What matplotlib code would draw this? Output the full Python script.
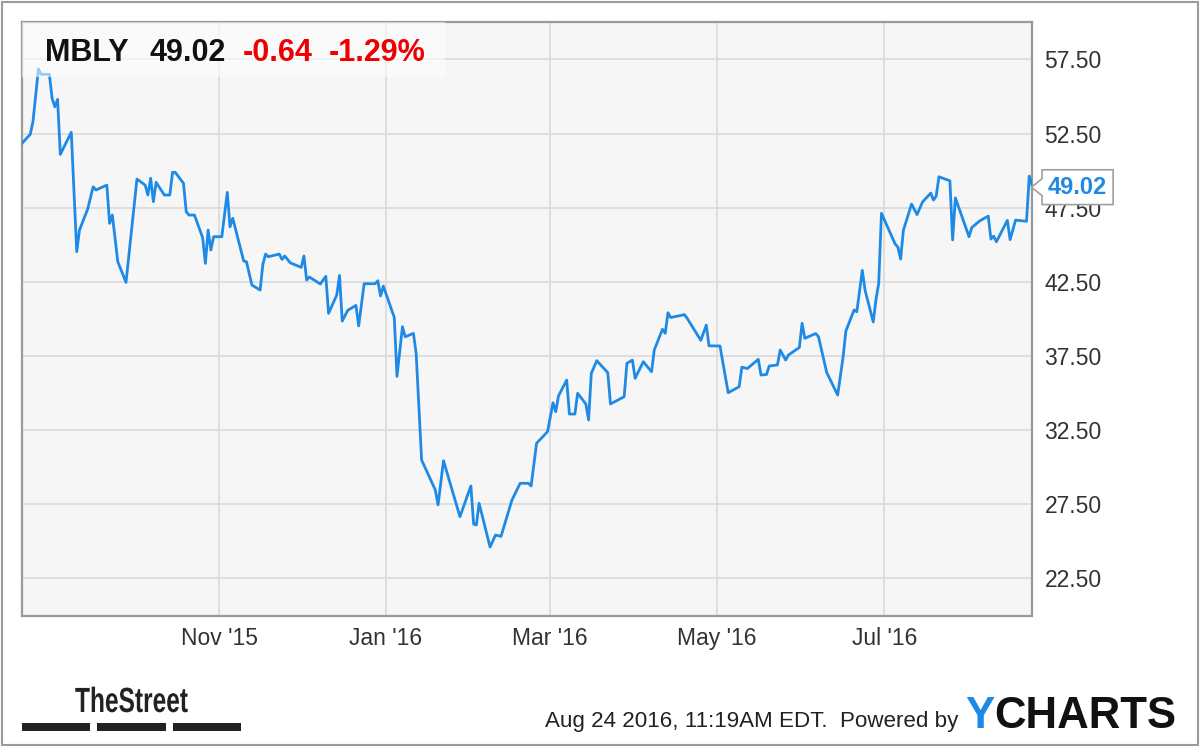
import matplotlib
matplotlib.use('Agg')
import pandas as pd
import matplotlib.pyplot as plt
import matplotlib.dates as mdates
from matplotlib.ticker import FormatStrFormatter
from matplotlib.patches import Rectangle, PathPatch
from matplotlib.path import Path
from matplotlib.textpath import TextPath
from matplotlib.font_manager import FontProperties
from matplotlib.transforms import Affine2D

plt.rcParams['font.family'] = ['Liberation Sans', 'DejaVu Sans']

# quote header
ticker = 'MBLY'
last_price = 49.02
change = -0.64
change_pct = -1.29
stamp = 'Aug 24 2016, 11:19AM EDT.  Powered by'

# daily closes (turning points)
dates = [
    '2015-08-21', '2015-08-24', '2015-08-25', '2015-08-27', '2015-08-28', '2015-08-31',
    '2015-09-01', '2015-09-02', '2015-09-03', '2015-09-04', '2015-09-08', '2015-09-10',
    '2015-09-11', '2015-09-14', '2015-09-16', '2015-09-17', '2015-09-21', '2015-09-22',
    '2015-09-23', '2015-09-25', '2015-09-28', '2015-10-02', '2015-10-05', '2015-10-06',
    '2015-10-07', '2015-10-08', '2015-10-09', '2015-10-12', '2015-10-14', '2015-10-15',
    '2015-10-16', '2015-10-19', '2015-10-20', '2015-10-21', '2015-10-23', '2015-10-26',
    '2015-10-27', '2015-10-28', '2015-10-29', '2015-10-30', '2015-11-02', '2015-11-04',
    '2015-11-05', '2015-11-06', '2015-11-10', '2015-11-11', '2015-11-13', '2015-11-16',
    '2015-11-17', '2015-11-18', '2015-11-19', '2015-11-23', '2015-11-24', '2015-11-25',
    '2015-11-27', '2015-12-01', '2015-12-02', '2015-12-03', '2015-12-04', '2015-12-08',
    '2015-12-10', '2015-12-11', '2015-12-14', '2015-12-15', '2015-12-16', '2015-12-18',
    '2015-12-21', '2015-12-22', '2015-12-24', '2015-12-28', '2015-12-29', '2015-12-30',
    '2015-12-31', '2016-01-04', '2016-01-05', '2016-01-07', '2016-01-08', '2016-01-11',
    '2016-01-12', '2016-01-14', '2016-01-19', '2016-01-20', '2016-01-22', '2016-01-28',
    '2016-02-01', '2016-02-02', '2016-02-03', '2016-02-04', '2016-02-08', '2016-02-10',
    '2016-02-12', '2016-02-16', '2016-02-19', '2016-02-22', '2016-02-23', '2016-02-25',
    '2016-02-29', '2016-03-02', '2016-03-03', '2016-03-04', '2016-03-07', '2016-03-08',
    '2016-03-10', '2016-03-11', '2016-03-14', '2016-03-15', '2016-03-16', '2016-03-18',
    '2016-03-22', '2016-03-23', '2016-03-28', '2016-03-29', '2016-03-31', '2016-04-01',
    '2016-04-04', '2016-04-07', '2016-04-08', '2016-04-11', '2016-04-12', '2016-04-13',
    '2016-04-14', '2016-04-18', '2016-04-19', '2016-04-20', '2016-04-25', '2016-04-27',
    '2016-04-28', '2016-05-02', '2016-05-05', '2016-05-09', '2016-05-10', '2016-05-12',
    '2016-05-16', '2016-05-17', '2016-05-19', '2016-05-20', '2016-05-23', '2016-05-24',
    '2016-05-26', '2016-05-27', '2016-05-31', '2016-06-01', '2016-06-02', '2016-06-06',
    '2016-06-07', '2016-06-10', '2016-06-14', '2016-06-16', '2016-06-17', '2016-06-20',
    '2016-06-21', '2016-06-23', '2016-06-24', '2016-06-27', '2016-06-28', '2016-06-29',
    '2016-06-30', '2016-07-05', '2016-07-06', '2016-07-07', '2016-07-08', '2016-07-11',
    '2016-07-13', '2016-07-15', '2016-07-18', '2016-07-19', '2016-07-20', '2016-07-21',
    '2016-07-25', '2016-07-26', '2016-07-27', '2016-08-01', '2016-08-02', '2016-08-05',
    '2016-08-08', '2016-08-09', '2016-08-10', '2016-08-11', '2016-08-15', '2016-08-16',
    '2016-08-18', '2016-08-22', '2016-08-23', '2016-08-24',
]
prices = [
    51.84, 52.44, 53.29, 56.85, 56.49, 56.49,
    54.87, 54.30, 54.80, 51.09, 52.58, 44.53,
    45.99, 47.41, 48.91, 48.69, 49.02, 46.44,
    47.00, 43.85, 42.46, 49.43, 49.02, 48.35,
    49.48, 47.90, 49.21, 48.35, 48.35, 49.88,
    49.88, 49.14, 47.22, 47.00, 47.00, 45.47,
    43.74, 45.99, 44.64, 45.54, 45.54, 48.53,
    46.21, 46.78, 43.90, 43.85, 42.28, 41.94,
    43.68, 44.37, 44.19, 44.37, 44.01, 44.24,
    43.78, 43.47, 44.24, 42.62, 42.82, 42.35,
    42.87, 40.37, 41.61, 42.93, 39.85, 40.57,
    40.91, 39.52, 42.37, 42.37, 42.57, 41.54,
    42.21, 40.10, 36.12, 39.47, 38.79, 39.02,
    37.68, 30.48, 28.46, 27.45, 30.43, 26.66,
    28.73, 26.16, 26.10, 27.56, 24.61, 25.42,
    25.33, 27.78, 28.91, 28.91, 28.73, 31.61,
    32.39, 34.34, 33.74, 34.80, 35.87, 33.58,
    33.58, 34.98, 34.26, 33.18, 36.33, 37.18,
    36.37, 34.26, 34.75, 37.00, 37.22, 35.99,
    37.11, 36.43, 37.90, 39.30, 39.02, 40.41,
    40.09, 40.24, 40.29, 40.04, 38.55, 39.58,
    38.18, 38.17, 35.02, 35.42, 36.74, 36.65,
    37.27, 36.21, 36.25, 36.82, 36.89, 37.90,
    37.22, 37.56, 38.07, 39.70, 38.69, 39.01,
    38.79, 36.38, 34.86, 37.45, 39.18, 40.60,
    40.48, 43.27, 41.94, 39.79, 41.30, 42.40,
    47.12, 45.05, 44.84, 44.03, 45.97, 47.74,
    47.03, 47.88, 48.48, 48.01, 48.28, 49.58,
    49.31, 45.32, 48.16, 45.54, 46.16, 46.62,
    46.93, 45.38, 45.58, 45.20, 46.64, 45.34,
    46.66, 46.58, 49.63, 49.02,
]

x_ticks = ['2015-11-01', '2016-01-01', '2016-03-01', '2016-05-01', '2016-07-01']
y_ticks = [22.5, 27.5, 32.5, 37.5, 42.5, 47.5, 52.5, 57.5]

BLUE = '#1e8ae6'
W, H = 1200, 747

def fx(px):
    return px / W

def fy(py):
    return 1 - py / H

fig = plt.figure(figsize=(W / 100, H / 100), dpi=100)
ax = fig.add_axes([fx(22), fy(616), (1032 - 22) / W, (616 - 21.7) / H])
ax.set_facecolor('#f6f6f6')

dt = pd.to_datetime(dates)
ax.plot(dt, prices, color=BLUE, lw=2.0, zorder=3, solid_joinstyle='round')
ax.set_xlim(dt[0], dt[-1])
ax.set_ylim(19.96, 60.04)

# axes look
ax.set_xticks(pd.to_datetime(x_ticks))
ax.xaxis.set_major_formatter(mdates.DateFormatter("%b '%y"))
ax.set_yticks(y_ticks)
ax.yaxis.set_major_formatter(FormatStrFormatter('%.2f'))
ax.yaxis.tick_right()
ax.tick_params(axis='both', length=0, labelsize=16.5, labelcolor='#333333')
ax.tick_params(axis='y', pad=9)
ax.tick_params(axis='x', pad=8)
ax.grid(True, color='#dcdcdc', lw=1.3)
ax.set_axisbelow(True)
for s in ax.spines.values():
    s.set_color('#9a9a9a')
    s.set_linewidth(1.6)

# header with quote
ax.add_patch(Rectangle((0, 1 - 0.093), 0.419, 0.093, transform=ax.transAxes,
                       fc='white', ec='none', alpha=0.55, zorder=4))
fig.text(fx(45), fy(61), ticker, fontsize=22, weight='bold', color='#111111', va='baseline')
fig.text(fx(150), fy(61), f'{last_price:.2f}', fontsize=22, weight='bold', color='#111111', va='baseline')
fig.text(fx(243), fy(61), f'{change:.2f}', fontsize=22, weight='bold', color='#ee0000', va='baseline')
fig.text(fx(329), fy(61), f'{change_pct:.2f}%', fontsize=22, weight='bold', color='#ee0000', va='baseline')


# last price tag with a notch pointing at the line end
def tag_style(x0, y0, width, height, mutation_size):
    pad = 0.25 * mutation_size
    x0, y0 = x0 - pad, y0 - pad
    x1, y1 = x0 + width + 2 * pad, y0 + height + 2 * pad
    ym = (y0 + y1) / 2
    n = 0.45 * mutation_size
    verts = [(x0, y0), (x1, y0), (x1, y1), (x0, y1), (x0, ym + 0.8 * n),
             (x0 - n, ym), (x0, ym - 0.8 * n), (x0, y0)]
    return Path(verts, closed=True)


ax.annotate(f'{last_price:.2f}', xy=(dt[-1], prices[-1]), xytext=(11.5, -1.5),
            textcoords='offset points', ha='left', va='center', fontsize=17,
            weight='bold', color=BLUE, annotation_clip=False, zorder=6,
            bbox=dict(boxstyle=tag_style, fc='white', ec='#a0a0a0', lw=1.2))

# footer
fig.text(fx(545), fy(727), stamp, fontsize=16.1, color='#222222', va='baseline')
y_logo = fig.text(fx(965), fy(728), 'Y', fontsize=31.5, weight='bold', color='#1a8ae8', va='baseline')
ax.annotate('CHARTS', xy=(1, 0), xycoords=y_logo, ha='left', va='bottom',
            fontsize=31.5, weight='bold', color='#111111', annotation_clip=False)

# TheStreet logo: condensed bold word and three bars
tp = TextPath((0, 0), 'TheStreet', size=35, prop=FontProperties(family='Liberation Sans', weight='bold'))
fig.add_artist(PathPatch(tp, fc='#222222', ec='none',
                         transform=Affine2D().scale(0.70, 1.0).translate(75, H - 712)))
for x0, x1 in [(22, 90), (97, 166), (173, 241)]:
    fig.add_artist(Rectangle((fx(x0), fy(731)), (x1 - x0) / W, 8 / H,
                             transform=fig.transFigure, fc='#222222', ec='none'))

# outer frame
fig.add_artist(Rectangle((fx(1.5), fy(745)), (1198 - 1.5) / W, (745 - 1.5) / H,
                         transform=fig.transFigure, fill=False, ec='#9a9a9a', lw=1.5))

plt.savefig('out.png', dpi=100)
